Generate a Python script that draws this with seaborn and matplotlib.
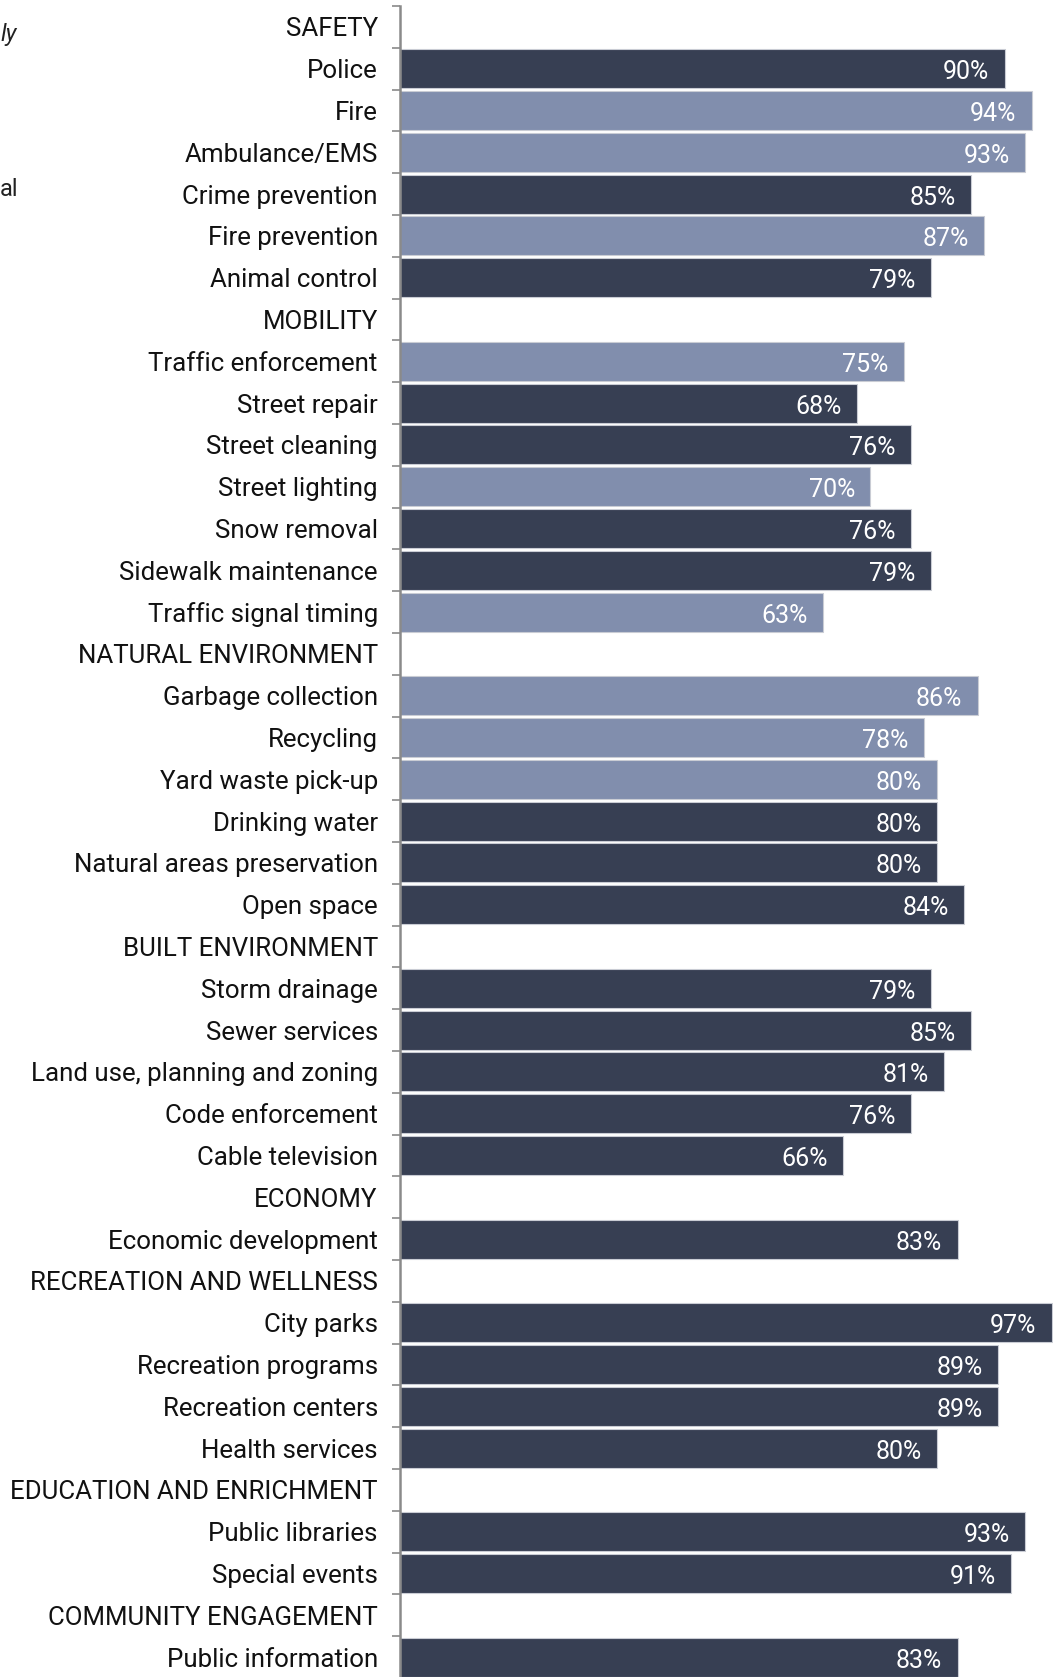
import matplotlib
matplotlib.use("Agg")
import matplotlib.pyplot as plt
from matplotlib.ticker import FixedLocator
import numpy as np
import pandas as pd
import seaborn as sns

# Rows top to bottom: section headers carry no value
rows = [
    "SAFETY", "Police", "Fire", "Ambulance/EMS", "Crime prevention",
    "Fire prevention", "Animal control",
    "MOBILITY", "Traffic enforcement", "Street repair", "Street cleaning",
    "Street lighting", "Snow removal", "Sidewalk maintenance",
    "Traffic signal timing",
    "NATURAL ENVIRONMENT", "Garbage collection", "Recycling",
    "Yard waste pick-up", "Drinking water", "Natural areas preservation",
    "Open space",
    "BUILT ENVIRONMENT", "Storm drainage", "Sewer services",
    "Land use, planning and zoning", "Code enforcement", "Cable television",
    "ECONOMY", "Economic development",
    "RECREATION AND WELLNESS", "City parks", "Recreation programs",
    "Recreation centers", "Health services",
    "EDUCATION AND ENRICHMENT", "Public libraries", "Special events",
    "COMMUNITY ENGAGEMENT", "Public information",
]

services = [
    "Police", "Fire", "Ambulance/EMS", "Crime prevention", "Fire prevention",
    "Animal control",
    "Traffic enforcement", "Street repair", "Street cleaning",
    "Street lighting", "Snow removal", "Sidewalk maintenance",
    "Traffic signal timing",
    "Garbage collection", "Recycling", "Yard waste pick-up", "Drinking water",
    "Natural areas preservation", "Open space",
    "Storm drainage", "Sewer services", "Land use, planning and zoning",
    "Code enforcement", "Cable television",
    "Economic development",
    "City parks", "Recreation programs", "Recreation centers",
    "Health services",
    "Public libraries", "Special events",
    "Public information",
]

ratings = [
    90, 94, 93, 85, 87, 79,
    75, 68, 76, 70, 76, 79, 63,
    86, 78, 80, 80, 80, 84,
    79, 85, 81, 76, 66,
    83,
    97, 89, 89, 80,
    93, 91,
    83,
]

# Service group: "A" drawn dark, "B" drawn light
groups = [
    "A", "B", "B", "A", "B", "A",
    "B", "A", "A", "B", "A", "A", "B",
    "B", "B", "B", "A", "A", "A",
    "A", "A", "A", "A", "A",
    "A",
    "A", "A", "A", "A",
    "A", "A",
    "A",
]

df = pd.DataFrame({"service": services, "rating": ratings, "group": groups})

DARK = "#323d58"
LIGHT = "#7a8bb4"

W, H, DPI = 1053, 1677, 100
fig = plt.figure(figsize=(W / DPI, H / DPI), dpi=DPI)

row_h = 41.8
top_px = 6.0
ax_left, ax_right = 400, 1053
ax_top = top_px
ax_bot = top_px + row_h * len(rows)
ax = fig.add_axes([ax_left / W, 1 - ax_bot / H,
                   (ax_right - ax_left) / W, (ax_bot - ax_top) / H])

sns.barplot(data=df, x="rating", y="service", hue="group", order=rows,
            hue_order=["A", "B"], palette={"A": DARK, "B": LIGHT},
            dodge=False, width=0.93, orient="h", legend=False,
            edgecolor="#c9ccd4", linewidth=0.8, ax=ax)

ax.set_xlim(0, 97.2)
ax.set_ylim(len(rows) - 0.5, -0.5)

label_font = ["Roboto", "DejaVu Sans"]
for s, v in zip(services, ratings):
    y = rows.index(s)
    ax.annotate(f"{v}%", xy=(v, y), xytext=(-11, -2.5),
                textcoords="offset points", ha="right", va="center",
                color="white", fontsize=18, family=label_font,
                fontweight="normal")

# Category labels at centres, tick marks at row boundaries
ax.set_yticks(np.arange(len(rows)))
ax.set_yticklabels(rows, fontsize=18.6, family=label_font, color="#111111")
ax.yaxis.set_minor_locator(FixedLocator(np.arange(len(rows) + 1) - 0.5))
ax.tick_params(axis="y", which="major", length=0, pad=16)
ax.tick_params(axis="y", which="minor", length=6, width=1.2, color="#8a8a8a")
ax.set_xlabel("")
ax.set_ylabel("")
ax.set_xticks([])

for side in ["top", "right", "bottom"]:
    ax.spines[side].set_visible(False)
ax.spines["left"].set_color("#8a8a8a")
ax.spines["left"].set_linewidth(1.8)
ax.set_facecolor("none")
for p in ax.patches:
    p.set_clip_on(False)

# Fragments of a side note at the left edge
fig.text(0.0, 1 - 35 / H, "ly", fontsize=17, style="italic", family=label_font,
         ha="left", va="center", color="#222222")
fig.text(0.0, 1 - 189 / H, "al", fontsize=17, family=label_font,
         ha="left", va="center", color="#222222")

fig.savefig("out.png", dpi=DPI)
